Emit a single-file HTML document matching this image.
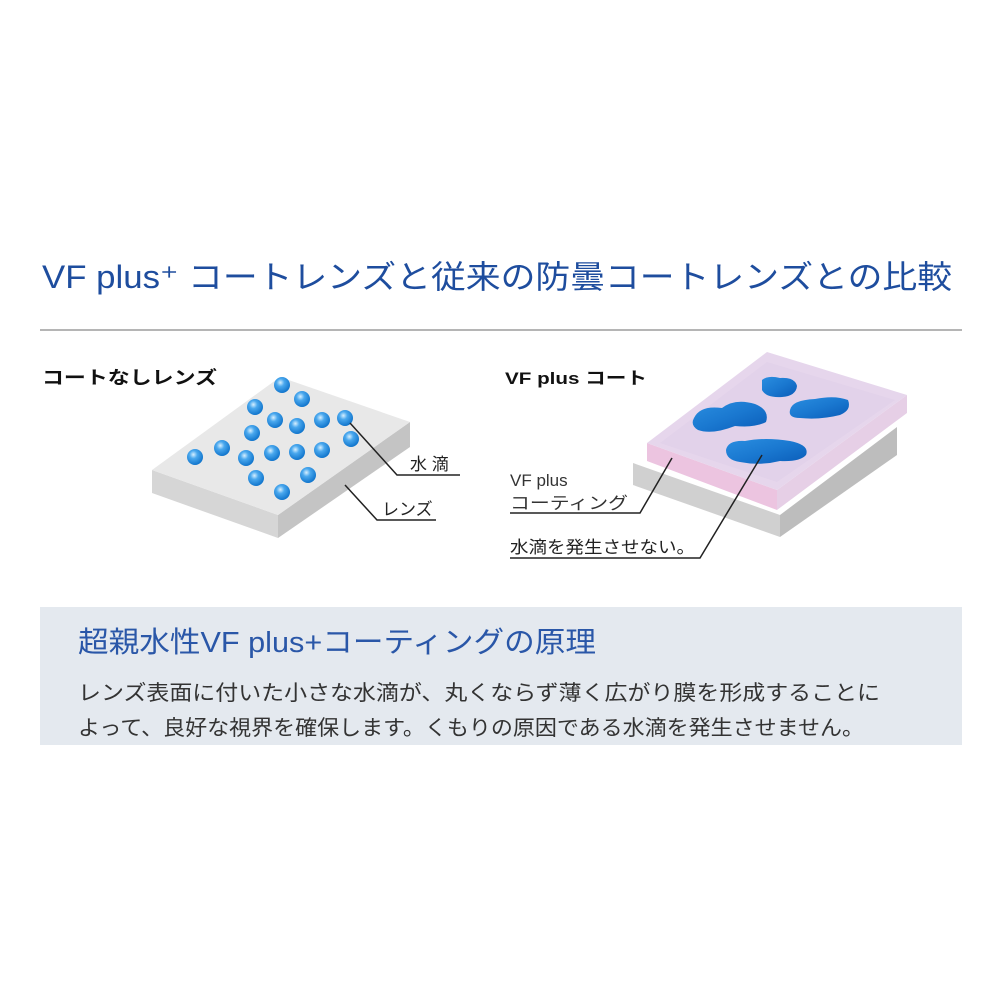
<!DOCTYPE html>
<html><head><meta charset="utf-8"><style>html,body{margin:0;padding:0;background:#fff}svg{display:block}</style></head>
<body>
<svg width="1000" height="1000" viewBox="0 0 1000 1000" xmlns="http://www.w3.org/2000/svg" font-family="'Liberation Sans','Noto Sans CJK JP',sans-serif">
<defs>
<radialGradient id="drop" cx="0.4" cy="0.35" r="0.7">
<stop offset="0" stop-color="#d8f0ff"/><stop offset="0.35" stop-color="#4aa8ee"/><stop offset="1" stop-color="#0a6fc8"/>
</radialGradient>
<linearGradient id="blob" x1="0" y1="0" x2="1" y2="1">
<stop offset="0" stop-color="#2a8ee0"/><stop offset="0.5" stop-color="#1a78d0"/><stop offset="1" stop-color="#0a5cb8"/>
</linearGradient>
</defs>
<text x="42" y="288" font-size="32" fill="#1e4d9e" textLength="910" lengthAdjust="spacingAndGlyphs">VF plus⁺ コートレンズと従来の防曇コートレンズとの比較</text>
<line x1="40" y1="330" x2="962" y2="330" stroke="#b5b5b5" stroke-width="2"/>

<!-- left slab -->
<polygon points="152,470 278,515 278,538 152,493" fill="#d6d6d6"/>
<polygon points="278,515 410,422 410,447 278,538" fill="#c4c4c4"/>
<polygon points="152,470 280,377 410,422 278,515" fill="#e8e8e8"/>
<g fill="url(#drop)">
<circle cx="282" cy="385" r="8"/><circle cx="302" cy="399" r="8"/><circle cx="255" cy="407" r="8"/><circle cx="275" cy="420" r="8"/><circle cx="297" cy="426" r="8"/><circle cx="322" cy="420" r="8"/><circle cx="345" cy="418" r="8"/><circle cx="252" cy="433" r="8"/><circle cx="351" cy="439" r="8"/><circle cx="222" cy="448" r="8"/><circle cx="195" cy="457" r="8"/><circle cx="246" cy="458" r="8"/><circle cx="272" cy="453" r="8"/><circle cx="297" cy="452" r="8"/><circle cx="322" cy="450" r="8"/><circle cx="256" cy="478" r="8"/><circle cx="308" cy="475" r="8"/><circle cx="282" cy="492" r="8"/>
</g>
<polyline points="350,423 397,475 460,475" fill="none" stroke="#222" stroke-width="1.5"/>
<polyline points="345,485 377,520 436,520" fill="none" stroke="#222" stroke-width="1.5"/>
<text x="410" y="470" font-size="17" fill="#222">水 滴</text>
<text x="382" y="515" font-size="17" fill="#222">レンズ</text>
<text x="42" y="384" font-size="18" font-weight="bold" fill="#111" textLength="175" lengthAdjust="spacingAndGlyphs">コートなしレンズ</text>

<!-- right slab -->
<polygon points="633,463 780,515 780,537 633,485" fill="#d0d0d0"/>
<polygon points="780,515 897,427 897,455 780,537" fill="#bdbdbd"/>
<polygon points="647,443 777,490 777,510 647,461" fill="#ecc4e0"/>
<polygon points="777,490 907,395 907,413 777,510" fill="#e6cfe6"/>
<polygon points="647,443 767,352 907,395 777,490" fill="#e6d6ec"/>
<polygon points="660,443 767,362 895,400 777,482" fill="#e2d2ea"/>
<g fill="url(#blob)">
<path d="M762,380 Q768,375 780,378 Q795,377 797,386 Q796,396 782,397 Q766,398 762,390 Z"/>
<path d="M694,418 Q700,405 722,408 Q735,398 755,404 Q770,410 766,422 Q755,428 735,426 Q712,435 698,430 Q690,425 694,418 Z"/>
<path d="M790,410 Q792,400 815,399 Q835,395 848,400 Q852,410 840,415 Q820,420 800,418 Q788,418 790,410 Z"/>
<path d="M726,450 Q728,440 745,441 Q765,437 790,441 Q810,445 806,455 Q800,462 780,461 Q760,466 740,462 Q726,460 726,450 Z"/>
</g>
<polyline points="672,458 640,513 510,513" fill="none" stroke="#222" stroke-width="1.5"/>
<polyline points="762,455 700,558 510,558" fill="none" stroke="#222" stroke-width="1.5"/>
<text x="510" y="486" font-size="17" fill="#333">VF plus</text>
<text x="510" y="509" font-size="17" fill="#333" textLength="118" lengthAdjust="spacingAndGlyphs">コーティング</text>
<text x="510" y="553" font-size="17" fill="#222" textLength="185" lengthAdjust="spacingAndGlyphs">水滴を発生させない。</text>
<text x="505" y="384" font-size="17" font-weight="bold" fill="#111" textLength="142" lengthAdjust="spacingAndGlyphs">VF plus コート</text>

<!-- bottom box -->
<rect x="40" y="607" width="922" height="138" fill="#e4e9ef"/>
<text x="78" y="652" font-size="29" fill="#2a57a8" textLength="518" lengthAdjust="spacingAndGlyphs">超親水性VF plus+コーティングの原理</text>
<text x="78" y="700" font-size="21" fill="#333" textLength="802" lengthAdjust="spacingAndGlyphs">レンズ表面に付いた小さな水滴が、丸くならず薄く広がり膜を形成することに</text>
<text x="78" y="735" font-size="21" fill="#333" textLength="786" lengthAdjust="spacingAndGlyphs">よって、良好な視界を確保します。くもりの原因である水滴を発生させません。</text>
</svg>
</body></html>
